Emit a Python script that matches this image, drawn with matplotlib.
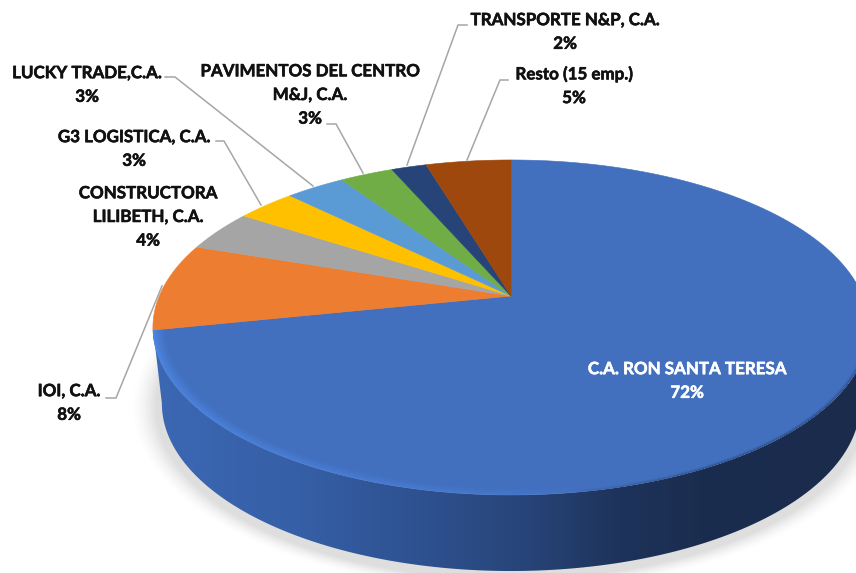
import numpy as np
import matplotlib
matplotlib.use("Agg")
import matplotlib.pyplot as plt
import matplotlib.patheffects as pe
from matplotlib.colors import to_rgb
from matplotlib.patches import Polygon

# ---- data ----
names = ["C.A. RON SANTA TERESA", "IOI, C.A.", "CONSTRUCTORA\nLILIBETH, C.A.",
         "G3 LOGISTICA, C.A.", "LUCKY TRADE,C.A.", "PAVIMENTOS DEL CENTRO\nM&J, C.A.",
         "TRANSPORTE N&P, C.A.", "Resto (15 emp.)"]
shares = [71.75, 8.45, 4.0, 3.2, 3.2, 2.9, 1.9, 4.6]
colors = ["#4270BF", "#ED7D31", "#A5A5A5", "#FFC000", "#5B9BD5", "#70AD47", "#264478", "#9E480E"]

# ---- layout / style ----
label_xy = [(687, 381), (69, 403), (148, 217), (134, 149), (87, 85), (310, 95), (565, 32), (574, 86)]
leaders = [None,
           [(106, 398), (116, 398), (162, 286)],
           None,
           [(216, 141), (224, 141), (261, 205)],
           [(165, 77), (175, 77), (313, 186)],
           [(327, 124), (336, 124), (363, 173)],
           [(467, 25), (458, 25), (407, 165)],
           [(508, 80), (500, 80), (467, 160)]]
AX, AY = 511.0, 296.0        # apex of the pie on screen
K = 0.188                    # perspective strength
A, B = 351.7, 161.6          # projective scale
DEPTH = 76.0

W, H = 856, 573
fig = plt.figure(figsize=(W / 100, H / 100), dpi=100)
ax = fig.add_axes([0, 0, 1, 1])
ax.set_xlim(0, W)
ax.set_ylim(H, 0)
ax.axis("off")


def rim(theta, scale=1.0, dy=0.0, shrink=1.0):
    """theta clockwise from 12 o'clock on the tilted disc -> screen coords."""
    x, y = scale * np.sin(theta), scale * np.cos(theta)
    d = 1 + K * y
    return AX + shrink * A * x / d, AY - B * y / d + dy


full = np.linspace(0, 2 * np.pi, 1441)
tx, ty = rim(full)
bx, by = rim(full, dy=DEPTH, shrink=0.975)
extent = (0, W, H, 0)
gx, gy = np.meshgrid(np.arange(W) + .5, np.arange(H) + .5)

# soft shadow beneath the disc
cx, cy = 0.5 * (bx.min() + bx.max()), 0.5 * (by.min() + by.max())
rx, ry = 0.5 * (bx.max() - bx.min()), 0.5 * (by.max() - by.min())
dist = (np.sqrt(((gx - cx) / (rx + 6)) ** 2 + ((gy - cy - 3) / (ry + 5)) ** 2) - 1) * 170
alpha = np.clip(1 - dist / 12, 0, 1) ** 1.6 * 0.32
shadow = np.zeros((H, W, 4))
shadow[..., :3] = 0.6
shadow[..., 3] = alpha
ax.imshow(shadow, extent=extent, aspect="auto", zorder=1, interpolation="bilinear")

# side wall with horizontal gradient, clipped to the front silhouette
stops_x = [150, 300, 430, 520, 620, 700, 860]
stops_c = np.array([[0x3C, 0x68, 0xB4], [0x35, 0x5F, 0xA6], [0x2E, 0x50, 0x8E],
                    [0x28, 0x45, 0x7A], [0x1E, 0x33, 0x5B], [0x1B, 0x2D, 0x4F], [0x1A, 0x2B, 0x4C]]) / 255
grad = np.stack([np.interp(gx, stops_x, stops_c[:, i]) for i in range(3)], axis=-1)
im = ax.imshow(grad, extent=extent, aspect="auto", zorder=2, interpolation="bilinear")
i_r, i_l = np.argmax(tx), np.argmin(tx)
j_r, j_l = np.argmax(bx), np.argmin(bx)
wall = Polygon(np.c_[np.r_[tx[i_r:i_l + 1], bx[j_r:j_l + 1][::-1]],
                     np.r_[ty[i_r:i_l + 1], by[j_r:j_l + 1][::-1]]],
               transform=ax.transData, fc="none", ec="none")
ax.add_patch(wall)
im.set_clip_path(wall)

# top face wedges, clockwise from 12 o'clock
edges = np.r_[0, np.cumsum(shares)] / np.sum(shares) * 2 * np.pi
for a0, a1, c in zip(edges[:-1], edges[1:], colors):
    th = np.linspace(a0, a1, max(int((a1 - a0) * 120), 12))
    x, y = rim(th)
    ax.fill(np.r_[AX, x], np.r_[AY, y], fc=c, ec=c, lw=0.4, zorder=3)

# bevel shading on the big slice: work out disc radius / angle per pixel
X, Y = gx - AX, AY - gy
dy_ = Y / (B - K * Y)
dx_ = X * (1 + K * dy_) / A
r = np.hypot(dx_, dy_)
ang = np.mod(np.arctan2(dx_, dy_), 2 * np.pi)
inside = (r <= 1.0).astype(float)

hl_fade = np.clip((ang - np.pi * 0.95) / (edges[1] - np.pi * 0.95), 0, 1) ** 0.55
hl_fade *= (ang <= edges[1])
hl_a = np.clip(1 - (1 - r) / 0.036, 0, 1) ** 1.4 * 0.95 * hl_fade * inside
hl = np.zeros((H, W, 4))
hl[..., :3] = to_rgb("#4F88E6")
hl[..., 3] = hl_a
ax.imshow(hl, extent=extent, aspect="auto", zorder=4, interpolation="bilinear")

dk_fade = np.clip(np.sin((ang - np.pi * 0.55) / (np.pi * 0.40) * np.pi), 0, 1) ** 0.5
dk_fade *= (ang > np.pi * 0.55) & (ang < np.pi * 0.95)
dk_a = np.clip(1 - (1 - r) / 0.012, 0, 1) ** 1.5 * 0.55 * dk_fade * inside
dk = np.zeros((H, W, 4))
dk[..., :3] = to_rgb("#1B2D4F")
dk[..., 3] = dk_a
ax.imshow(dk, extent=extent, aspect="auto", zorder=4, interpolation="bilinear")
ax.set_xlim(0, W)
ax.set_ylim(H, 0)

# labels and leaders
for i, (n, v, (lxp, lyp)) in enumerate(zip(names, shares, label_xy)):
    col = "white" if i == 0 else "#111111"
    t = ax.text(lxp, lyp, f"{n}\n{v:.0f}%", ha="center", va="center", family="Lato", weight="bold",
                fontsize=12.2, linespacing=1.59, color=col, zorder=6)
    t.set_path_effects([pe.withStroke(linewidth=0.4, foreground=col)])
    if leaders[i]:
        p = np.array(leaders[i])
        ax.plot(p[:, 0], p[:, 1], color="#A6A6A6", lw=1.1, zorder=5, solid_joinstyle="miter")

fig.savefig("out.png", dpi=100)
